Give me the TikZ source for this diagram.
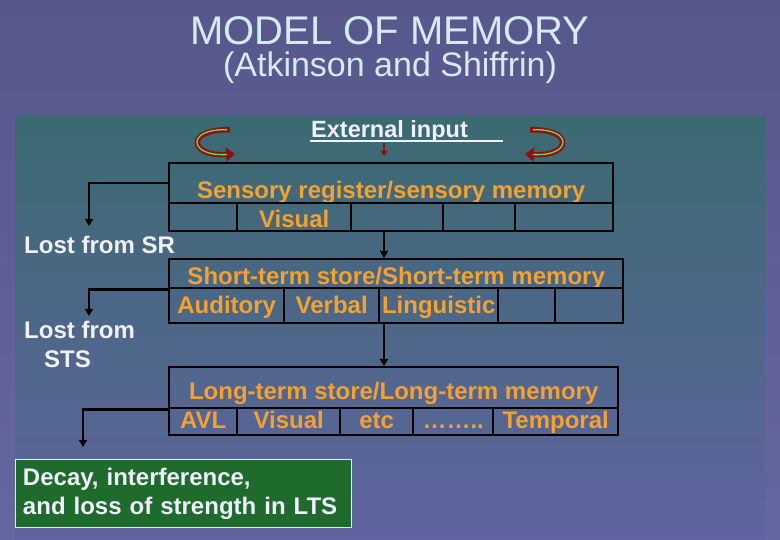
\documentclass[tikz,border=0pt]{standalone}
\usepackage{fontspec}
\setmainfont{Liberation Sans}
\usepackage{xcolor}
\usepackage{tikz}
\usetikzlibrary{arrows.meta, positioning, fit}

\definecolor{bgtop}{HTML}{56578A}
\definecolor{bgbot}{HTML}{6567A0}
\definecolor{bandtop}{HTML}{3B6A71}
\definecolor{bandbot}{HTML}{6064A0}
\definecolor{titleblue}{HTML}{D4EAF7}
\definecolor{storeorange}{HTML}{F2A132}
\definecolor{lossgreen}{HTML}{1F6B2C}
\definecolor{curlred}{HTML}{8E1212}
\definecolor{curlgreen}{HTML}{6CD85E}

\begin{document}
\begin{tikzpicture}[
  x=1pt, y=-1pt,
  cell/.style={draw=black, line width=2.4pt, inner sep=0pt, anchor=north west,
    minimum width=#1, text=storeorange, font=\fontsize{24}{28}\selectfont\bfseries},
  srtop/.style={minimum height=40pt, text height=35pt, text depth=5pt},
  srbot/.style={minimum height=28pt, text height=24pt, text depth=4pt},
  stmtop/.style={minimum height=29pt, text height=25pt, text depth=4pt},
  stmbot/.style={minimum height=35pt, text height=25pt, text depth=10pt},
  ltmtop/.style={minimum height=41pt, text height=32pt, text depth=9pt},
  ltmbot/.style={minimum height=27pt, text height=20pt, text depth=7pt},
  link/.style={-{Triangle[length=7pt, width=8pt]}, line width=2.4pt, black},
  lost/.style={text=white!94!blue, font=\fontsize{24}{29}\selectfont\bfseries, inner sep=0pt},
  curl/.style={curlred, line width=5.5pt, -{Triangle[length=9pt, width=14pt]}},
  curlin/.style={curlgreen, line width=1.3pt, shorten <=3pt, shorten >=8pt}
]
\useasboundingbox (0,0) rectangle (780,540);
\shade[top color=bgtop, bottom color=bgbot] (0,0) rectangle (780,540);
\shade[top color=bandtop, bottom color=bandbot] (15,117) rectangle (765,540);

\node[text=titleblue, font=\fontsize{40}{44}\selectfont, inner sep=0pt] (title) at (390,31) {MODEL OF MEMORY};
\node[text=titleblue, font=\fontsize{34}{40}\selectfont, inner sep=0pt] (subtitle) at (390,68) {(Atkinson and Shiffrin)};

\node[text=white!94!blue, font=\fontsize{23.5}{27}\selectfont\bfseries, inner sep=0pt, anchor=base west] (input) at (311,138) {External input};
\draw[white!94!blue, line width=2pt] (310,141) -- (503,141);
\coordinate (drop) at (384,143);

\coordinate (lcurla) at (230,130);
\coordinate (lcurlb) at (235,154);
\coordinate (rcurla) at (530,130);
\coordinate (rcurlb) at (525,154);
\draw[curl] (lcurla) .. controls (186,128) and (188,157) .. (lcurlb);
\draw[curlin] (lcurla) .. controls (186,128) and (188,157) .. (lcurlb);
\draw[curl] (rcurla) .. controls (574,128) and (572,157) .. (rcurlb);
\draw[curlin] (rcurla) .. controls (574,128) and (572,157) .. (rcurlb);

\node[cell=444pt, srtop] (srhead) at (168,162) {Sensory register/sensory memory};
\node[cell=68pt, srbot] (sra) at (168,202) {};
\node[cell=114pt, srbot] (srb) at (236,202) {Visual};
\node[cell=92pt, srbot] (src) at (350,202) {};
\node[cell=72pt, srbot] (srd) at (442,202) {};
\node[cell=98pt, srbot] (sre) at (514,202) {};

\node[cell=454pt, stmtop] (stmhead) at (168,258) {Short-term store/Short-term memory};
\node[cell=115pt, stmbot] (stma) at (168,287) {Auditory};
\node[cell=95pt, stmbot] (stmb) at (283,287) {Verbal};
\node[cell=119pt, stmbot] (stmc) at (378,287) {Linguistic};
\node[cell=57pt, stmbot] (stmd) at (497,287) {};
\node[cell=68pt, stmbot] (stme) at (554,287) {};

\node[cell=449pt, ltmtop] (ltmhead) at (168,366) {Long-term store/Long-term memory};
\node[cell=68pt, ltmbot] (ltma) at (168,407) {AVL};
\node[cell=103pt, ltmbot] (ltmb) at (236,407) {Visual};
\node[cell=73pt, ltmbot] (ltmc) at (339,407) {etc};
\node[cell=80pt, ltmbot] (ltmd) at (412,407) {\dots\dots..};
\node[cell=125pt, ltmbot] (ltme) at (492,407) {Temporal};

\node[lost, anchor=west] (lostsr) at (24,245) {Lost from SR};
\node[lost, anchor=north west, align=left] (loststs) at (24,321) {Lost from\\\hspace*{20pt}STS};
\coordinate (srlost) at (89,226);
\coordinate (stmlost) at (89,316);
\coordinate (ltmlost) at (83,447);

\node[draw=green!20!white, line width=0.8pt, fill=lossgreen, text=white!94!blue,
  font=\fontsize{24}{29}\selectfont\bfseries, minimum width=336pt, minimum height=63pt,
  text width=320pt, inner sep=8pt, align=left] (decay) at (183,493.5)
  {Decay, interference,\\and loss of strength in LTS};

\draw[curlred, line width=1.6pt, -{Triangle[length=5pt, width=7pt]}, shorten >=6pt] (drop) -- (drop |- srhead.north);
\draw[link] (drop |- sra.south) -- (drop |- stmhead.north);
\draw[link] (drop |- stma.south) -- (drop |- ltmhead.north);
\draw[link] (srhead.west) -| (srlost);
\draw[link] (stmhead.south west) -| (stmlost);
\draw[link] (ltmhead.south west) -| (ltmlost);
\end{tikzpicture}
\end{document}
